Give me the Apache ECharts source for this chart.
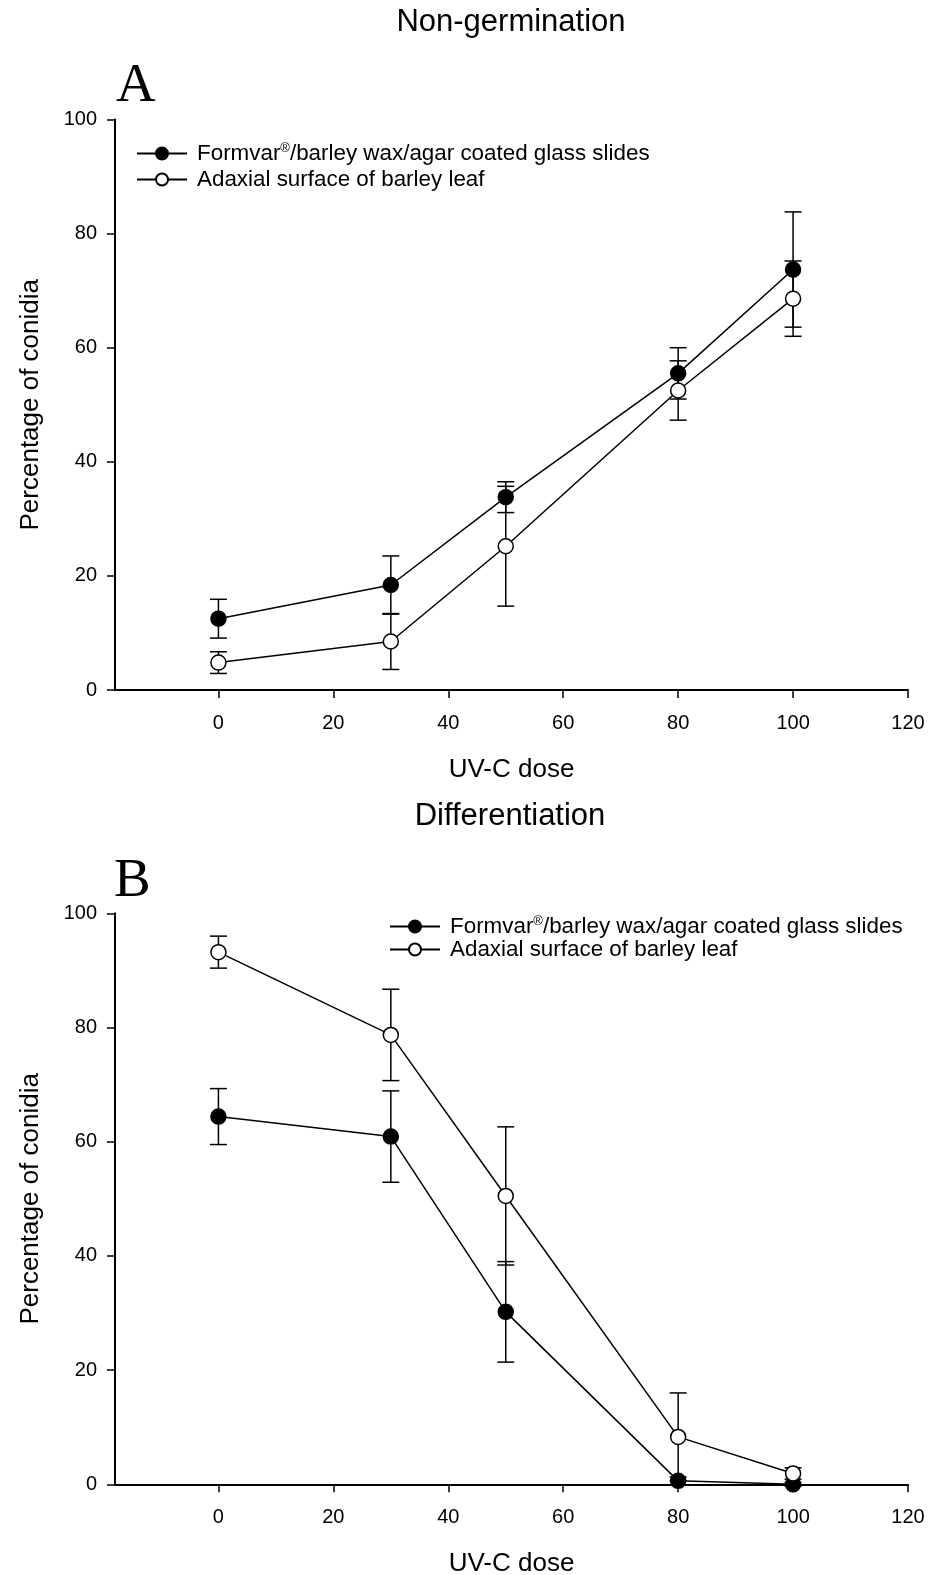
<!DOCTYPE html>
<html>
<head>
<meta charset="utf-8">
<script src="https://cdn.jsdelivr.net/npm/echarts@6/dist/echarts.min.js"></script>
<style>
  html, body { margin: 0; padding: 0; background: #fff; }
  #chart { width: 930px; height: 1575px; }
</style>
</head>
<body>
<div id="chart"></div>
<script>
// UV-C dose levels applied to the conidia
const doses = [0, 30, 50, 80, 100];
const xTicks = [0, 20, 40, 60, 80, 100, 120];

// Panel A: non-germinated conidia (%), mean and standard error
const nonGermSlides = [12.5, 18.4, 33.8, 55.5, 73.7];
const nonGermSlidesSE = [3.4, 5.1, 2.7, 4.5, 10.1];
const nonGermLeaf = [4.8, 8.5, 25.2, 52.5, 68.6];
const nonGermLeafSE = [1.9, 4.9, 10.5, 5.2, 6.6];

// Panel B: differentiated conidia (%), mean and standard error
const diffSlides = [64.4, 60.9, 30.2, 0.6, 0];
const diffSlidesSE = [4.9, 8.0, 8.8, 0.7, 0.3];
const diffLeaf = [93.2, 78.7, 50.5, 8.3, 1.9];
const diffLeafSE = [2.8, 8.0, 12.1, 7.7, 1.0];

const nameSlides = 'Formvar®/barley wax/agar coated glass slides';
const nameLeaf = 'Adaxial surface of barley leaf';

const FONT = '"Liberation Sans", Arial, sans-serif';
const SERIF = '"Liberation Serif", "Times New Roman", serif';

const chart = echarts.init(document.getElementById('chart'), null, { renderer: 'canvas' });

function xAxisFor(idx, gap) {
  return {
    type: 'value', gridIndex: idx, min: -18, max: 120,
    axisLine: { show: true, onZero: false, lineStyle: { color: '#000', width: 2 } },
    axisTick: { show: true, length: 8, customValues: xTicks, lineStyle: { color: '#000', width: 1.5 } },
    axisLabel: { customValues: xTicks, fontSize: 20, color: '#000', fontFamily: FONT, margin: 23 },
    splitLine: { show: false },
    name: 'UV-C dose', nameLocation: 'middle', nameGap: gap,
    nameTextStyle: { fontSize: 26, color: '#000', fontFamily: FONT }
  };
}

function yAxisFor(idx) {
  return {
    type: 'value', gridIndex: idx, min: 0, max: 100, interval: 20,
    axisLine: { show: true, onZero: false, lineStyle: { color: '#000', width: 2 } },
    axisTick: { show: true, length: 8, lineStyle: { color: '#000', width: 1.5 } },
    axisLabel: { fontSize: 20, color: '#000', fontFamily: FONT, margin: 18 },
    splitLine: { show: false },
    name: 'Percentage of conidia', nameLocation: 'middle', nameGap: 71,
    nameTextStyle: { fontSize: 26, color: '#000', fontFamily: FONT }
  };
}

function pairs(vals) {
  return doses.map((d, i) => [d, vals[i]]);
}

function lineSeries(name, vals, idx, filled) {
  return {
    type: 'line', name: name, xAxisIndex: idx, yAxisIndex: idx,
    data: pairs(vals), symbol: 'circle', symbolSize: 15, clip: false,
    lineStyle: { color: '#000', width: 1.5 },
    itemStyle: { color: filled ? '#000' : '#fff', borderColor: '#000', borderWidth: 1.5 },
    z: 3, animation: false
  };
}

function errorSeries(vals, se, idx) {
  return {
    type: 'custom', xAxisIndex: idx, yAxisIndex: idx, silent: true, clip: false,
    data: doses.map((d, i) => [d, vals[i] - se[i], vals[i] + se[i]]),
    encode: { x: 0, y: [1, 2] },
    renderItem: function (params, api) {
      const lo = api.coord([api.value(0), api.value(1)]);
      const hi = api.coord([api.value(0), api.value(2)]);
      const hw = 8.5;
      const st = { stroke: '#000', lineWidth: 1.5 };
      return {
        type: 'group',
        children: [
          { type: 'line', shape: { x1: lo[0], y1: lo[1], x2: hi[0], y2: hi[1] }, style: st },
          { type: 'line', shape: { x1: lo[0] - hw, y1: lo[1], x2: lo[0] + hw, y2: lo[1] }, style: st },
          { type: 'line', shape: { x1: hi[0] - hw, y1: hi[1], x2: hi[0] + hw, y2: hi[1] }, style: st }
        ]
      };
    },
    z: 2, animation: false
  };
}

function legendFor(left, top, gap) {
  return {
    orient: 'vertical', left: left, top: top, padding: 0,
    data: [nameSlides, nameLeaf],
    itemWidth: 50, itemHeight: 15, itemGap: gap,
    selectedMode: false,
    formatter: function (n) { return n.replace('®', '{sup|®}'); },
    textStyle: {
      fontSize: 22.4, color: '#000', fontFamily: FONT, lineHeight: 23, padding: [0, 0, 0, 5],
      rich: { sup: { fontSize: 13, color: '#000', fontFamily: FONT, verticalAlign: 'top', lineHeight: 13 } }
    }
  };
}

const option = {
  backgroundColor: '#fff',
  animation: false,
  grid: [
    { left: 115, right: 22, top: 119.5, height: 570.5, outerBoundsMode: 'none', containLabel: false },
    { left: 115, right: 22, top: 913.3, height: 571, outerBoundsMode: 'none', containLabel: false }
  ],
  xAxis: [xAxisFor(0, 67), xAxisFor(1, 67)],
  yAxis: [yAxisFor(0), yAxisFor(1)],
  legend: [legendFor(136, 142, 3), legendFor(389, 915, 0)],
  series: [
    errorSeries(nonGermSlides, nonGermSlidesSE, 0),
    errorSeries(nonGermLeaf, nonGermLeafSE, 0),
    lineSeries(nameSlides, nonGermSlides, 0, true),
    lineSeries(nameLeaf, nonGermLeaf, 0, false),
    errorSeries(diffSlides, diffSlidesSE, 1),
    errorSeries(diffLeaf, diffLeafSE, 1),
    lineSeries(nameSlides, diffSlides, 1, true),
    lineSeries(nameLeaf, diffLeaf, 1, false)
  ],
  graphic: [
    { type: 'text', style: { x: 511, y: 22, text: 'Non-germination', fontSize: 31, fontFamily: FONT, fill: '#000', align: 'center', verticalAlign: 'middle' } },
    { type: 'text', style: { x: 510, y: 816, text: 'Differentiation', fontSize: 31, fontFamily: FONT, fill: '#000', align: 'center', verticalAlign: 'middle' } },
    { type: 'text', style: { x: 116, y: 87, text: 'A', fontSize: 55, fontFamily: SERIF, fill: '#000', align: 'left', verticalAlign: 'middle' } },
    { type: 'text', style: { x: 114, y: 882, text: 'B', fontSize: 55, fontFamily: SERIF, fill: '#000', align: 'left', verticalAlign: 'middle' } }
  ]
};

chart.setOption(option);
</script>
</body>
</html>
